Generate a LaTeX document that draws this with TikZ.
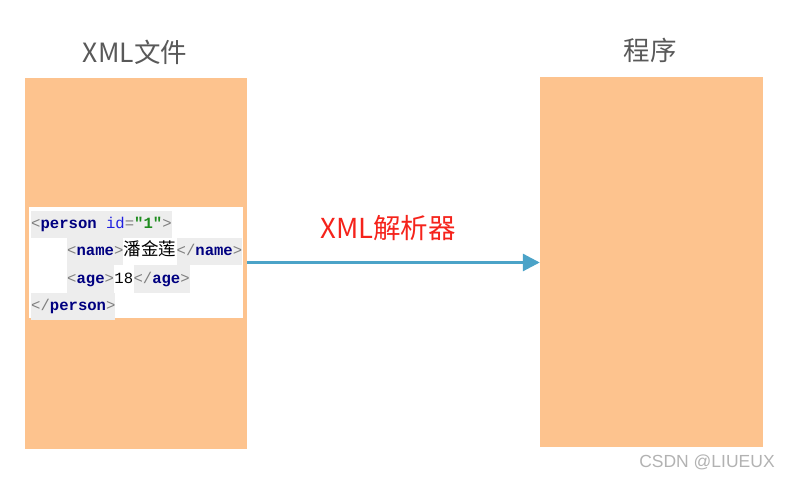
\documentclass[tikz,border=0pt]{standalone}
\usepackage{fontspec}
\setmainfont{Noto Sans CJK SC}
\newfontfamily\codefont{Liberation Mono}
\newfontfamily\cjkfont{Noto Sans CJK SC}
\newfontfamily\wmfont{Liberation Sans}
\usetikzlibrary{positioning,arrows.meta}
\definecolor{panelc}{HTML}{FDC38E}
\definecolor{titlec}{HTML}{595959}
\definecolor{arrowc}{HTML}{4BA3C8}
\definecolor{labelc}{HTML}{F5231B}
\definecolor{tagbg}{HTML}{EDEDED}
\definecolor{tagname}{HTML}{000080}
\definecolor{brk}{HTML}{7F7F7F}
\definecolor{attr}{HTML}{2020E0}
\definecolor{attrval}{HTML}{1E8C1E}
\newcommand\opn{\textcolor{brk}{<}}
\newcommand\cls{\textcolor{brk}{>}}
\newcommand\slsh{\textcolor{brk}{/}}
\newcommand\tn[1]{\textcolor{tagname}{\bfseries #1}}

\begin{document}
\begin{tikzpicture}[x=1pt,y=-1pt,
    panel/.style={fill=panelc,inner sep=0pt},
    title/.style={text=titlec,font=\fontsize{26.5}{30}\selectfont},
    tok/.style={inner xsep=0pt,inner ysep=0pt,text height=11pt,text depth=3pt,
        minimum height=27.3pt,font=\codefont\fontsize{15.6}{18}\selectfont},
    tag/.style={tok,fill=tagbg},
    flow/.style={draw=arrowc,line width=3pt,-{Triangle[length=17pt,width=17pt]}},
    node distance=0pt]
    \useasboundingbox (0,0) rectangle (790,478);
    % the two panels
    \node[panel,minimum width=222pt,minimum height=371pt] (xmlfile) at (136,263.5) {};
    \node[panel,minimum width=223pt,minimum height=370pt] (program) at (651.5,262) {};
    \node[title] (t1) at (135,52) {XML文件};
    \node[title] (t2) at (650,50) {程序};
    % the xml snippet
    \node[fill=white,inner sep=0pt,minimum width=214pt,minimum height=111pt] (codebox) at (136,262.5) {};
    \node[tag,anchor=west] (p1) at (31,224.5) {\opn\tn{person} \textcolor{attr}{id}\textcolor{brk}{=}\textcolor{attrval}{\bfseries"1"}\cls};
    \node[tag,anchor=west] (n1) at (67,251.8) {\opn\tn{name}\cls};
    \node[tok,right=of n1] (n2) {\cjkfont\fontsize{17.5}{18}\selectfont 潘金莲};
    \node[tag,right=of n2] (n3) {\opn\slsh\tn{name}\cls};
    \node[tag,anchor=west] (a1) at (67,279.1) {\opn\tn{age}\cls};
    \node[tok,right=of a1] (a2) {18};
    \node[tag,right=of a2] (a3) {\opn\slsh\tn{age}\cls};
    \node[tag,anchor=west] (p2) at (31,306.4) {\opn\slsh\tn{person}\cls};
    % parser arrow
    \draw[flow] (codebox.east -| xmlfile.east) -- (codebox.east -| program.west);
    \node[text=labelc,font=\fontsize{27.5}{30}\selectfont] (parser) at (388,228) {XML解析器};
    \node[text=gray!60,font=\wmfont\fontsize{17.5}{20}\selectfont] (mark) at (707,462) {CSDN @LIUEUX};
\end{tikzpicture}
\end{document}
